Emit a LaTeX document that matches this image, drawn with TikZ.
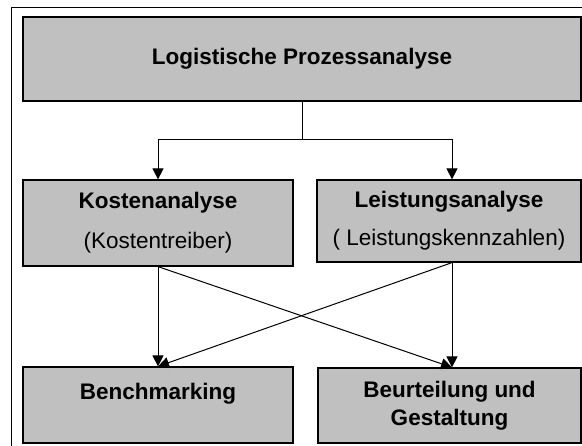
\documentclass[tikz,border=0pt]{standalone}
\usepackage{fontspec}
\setmainfont{Liberation Sans}
\usetikzlibrary{arrows.meta}
\definecolor{boxgray}{HTML}{C0C0C0}
\begin{document}
\begin{tikzpicture}[x=1pt,y=-1pt,
  box/.style={draw=black, line width=1.2pt, fill=boxgray, inner sep=0pt, align=center,
    font=\fontsize{22.5}{28}\selectfont},
  boldbox/.style={box, font=\fontsize{22.5}{28}\selectfont\bfseries},
  conn/.style={line width=1pt, -{Triangle[width=11pt,length=11pt]}},
  plain/.style={line width=1pt}]
\path[use as bounding box] (0,0) rectangle (582,446);
\clip (0,0) rectangle (582,446);
\draw[plain] (11,8) rectangle (600,470);

\node[boldbox, minimum width=558pt, minimum height=84pt] (top) at (302,59) {Logistische Prozessanalyse};
\node[box, minimum width=270pt, minimum height=86pt] (kost) at (158,223) {{\bfseries Kostenanalyse}\\[12pt](Kostentreiber)};
\node[box, minimum width=264pt, minimum height=82pt] (leist) at (449,221) {{\bfseries Leistungsanalyse}\\[10pt]( Leistungskennzahlen)};
\node[boldbox, minimum width=270pt, minimum height=76pt] (bench) at (158,405) {Benchmarking\\\phantom{G}};
\node[boldbox, minimum width=263pt, minimum height=75pt] (beur) at (449.5,405.5) {Beurteilung und\\Gestaltung};

\coordinate (xL) at (158,0);
\coordinate (xR) at (452,0);
\coordinate (split) at (302,140);

\draw[plain] (top.south) -- (split);
\draw[conn] (split) -| (kost.north -| xL);
\draw[conn] (split) -| (leist.north -| xR);
\draw[conn] (kost.south -| xL) -- (bench.north -| xL);
\draw[conn] (kost.south -| xL) -- (beur.north -| xR);
\draw[conn] (leist.south -| xR) -- (beur.north -| xR);
\draw[conn] (leist.south -| xR) -- (bench.north -| xL);
\end{tikzpicture}
\end{document}
